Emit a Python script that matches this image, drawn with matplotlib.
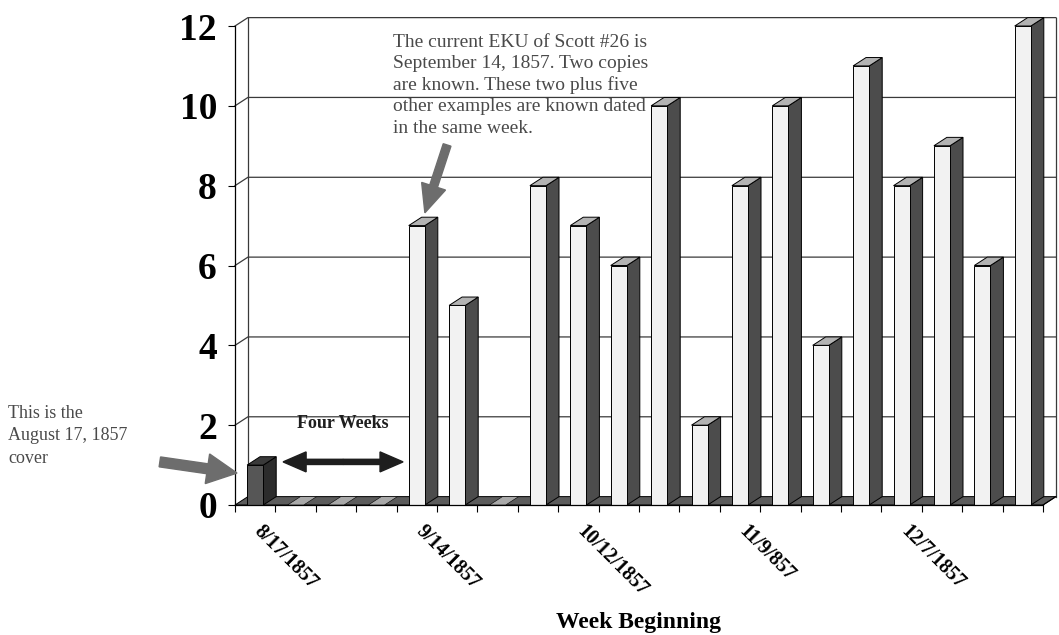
import numpy as np
import matplotlib
matplotlib.use("Agg")
import matplotlib.pyplot as plt
from matplotlib.patches import Polygon, FancyArrow
from matplotlib.lines import Line2D
import matplotlib.transforms as mtransforms

# Covers recorded per week, starting with the week of 8/17/1857
counts = [1, 0, 0, 0, 7, 5, 0, 8, 7, 6, 10, 2, 8, 10, 4, 11, 8, 9, 6, 12]
label_weeks = [0, 4, 8, 12, 16]
week_labels = ["8/17/1857", "9/14/1857", "10/12/1857", "11/9/857", "12/7/1857"]
y_ticks = [0, 2, 4, 6, 8, 10, 12]

n = len(counts)
ymax = 12
DX, DY = 0.32, 0.21          # oblique depth offset of the 3-D box
BAR_W = 0.40

SERIF = "Liberation Serif"
ANN_GREY = "#4a4a4a"

fig = plt.figure(figsize=(10.59, 6.35), dpi=100)
ax = fig.add_axes([235 / 1059, 130 / 635, 808 / 1059, 479 / 635])
ax.set_xlim(0, n)
ax.set_ylim(0, ymax)
ax.patch.set_visible(False)

def poly(pts, fc, z, ec="black", lw=0.7):
    p = Polygon(pts, closed=True, facecolor=fc, edgecolor=ec, linewidth=lw,
                zorder=z, clip_on=False, joinstyle="miter")
    ax.add_patch(p)

def line(xs, ys, z=0.6, color="#3a3a3a", lw=0.9):
    ax.add_line(Line2D(xs, ys, color=color, linewidth=lw, zorder=z,
                       clip_on=False))

# back wall and gridlines
poly([(DX, DY), (n + DX, DY), (n + DX, ymax + DY), (DX, ymax + DY)],
     "white", 0.4, ec="none")
for v in y_ticks[1:]:
    line([0, DX, n + DX], [v, v + DY, v + DY])
line([DX, DX], [DY, ymax + DY])
line([n + DX, n + DX], [DY, ymax + DY])

# floor slab
poly([(0, 0), (n, 0), (n + DX, DY), (DX, DY)], "#5c5c5c", 1.0)

# bars
for i, v in enumerate(counts):
    c = i + 0.5
    x0, x1 = c - BAR_W / 2, c + BAR_W / 2
    if i == 0:
        front, side, top = "#565656", "#2c2c2c", "#3a3a3a"
    else:
        front, side, top = "#f2f2f2", "#4c4c4c", "#b3b3b3"
    z = 2 + i * 0.01
    if v > 0:
        poly([(x1, 0), (x1 + DX, DY), (x1 + DX, v + DY), (x1, v)], side, z)
    poly([(x0, v), (x1, v), (x1 + DX, v + DY), (x0 + DX, v + DY)],
         top if v > 0 else "#a9a9a9", z + 0.001, lw=0.7 if v > 0 else 0.4)
    if v > 0:
        poly([(x0, 0), (x1, 0), (x1, v), (x0, v)], front, z + 0.002)

# right floor edge
line([n, n + DX], [0, DY], z=3, color="black", lw=0.8)

# axes frame
for s in ("top", "right"):
    ax.spines[s].set_visible(False)
ax.spines["left"].set_linewidth(0.9)
ax.spines["bottom"].set_linewidth(0.9)
ax.spines["left"].set_zorder(3)
ax.spines["bottom"].set_zorder(3)

ax.set_yticks(y_ticks)
ax.set_yticklabels([str(v) for v in y_ticks])
ax.tick_params(axis="y", length=5, width=0.8, pad=8, labelsize=27)
for t in ax.get_yticklabels():
    t.set_fontfamily(SERIF)
    t.set_fontweight("bold")

ax.set_xticks(np.arange(n + 1))
ax.set_xticklabels([])
ax.tick_params(axis="x", which="major", length=5, width=0.8)
ax.set_xticks([i + 0.5 for i in label_weeks], labels=week_labels, minor=True)
ax.tick_params(axis="x", which="minor", length=0, pad=12)
shift = mtransforms.ScaledTranslation(9 / 100, 0, fig.dpi_scale_trans)
for t in ax.get_xticklabels(minor=True):
    t.set_fontfamily(SERIF)
    t.set_fontweight("bold")
    t.set_fontsize(14.5)
    t.set_rotation(-45)
    t.set_ha("left")
    t.set_va("top")
    t.set_rotation_mode("anchor")
    t.set_transform(t.get_transform() + shift)

ax.set_xlabel("Week Beginning", fontfamily=SERIF, fontweight="bold",
              fontsize=17)
ax.xaxis.label.set_va("baseline")
ax.xaxis.set_label_coords(0.5, (505 - 628) / 479)

# annotations
ax.text(3.9, (505 - 34) / 39.9,
        "The current EKU of Scott #26 is\nSeptember 14, 1857. Two copies\n"
        "are known. These two plus five\nother examples are known dated\n"
        "in the same week.",
        ha="left", va="top", fontfamily=SERIF, fontsize=14, color=ANN_GREY,
        linespacing=1.32, zorder=5)

fig.text(8 / 1059, 1 - 405 / 635, "This is the\nAugust 17, 1857\ncover",
         ha="left", va="top", fontfamily=SERIF, fontsize=13, color=ANN_GREY,
         linespacing=1.42)

ax.text(2.67, 2.05, "Four Weeks", ha="center", va="center",
        fontfamily=SERIF, fontweight="bold", fontsize=13, color="#1e1e1e",
        zorder=5)

arrow_grey = "#6d6d6d"
ax.add_patch(FancyArrow(-1.86, 1.08, 1.91, -0.28, width=0.25,
                        head_width=0.75, head_length=0.74,
                        length_includes_head=True, color=arrow_grey,
                        clip_on=False, zorder=5))
ax.add_patch(FancyArrow(5.25, 9.02, -0.55, -1.70, width=0.2,
                        head_width=0.62, head_length=0.7,
                        length_includes_head=True, color=arrow_grey,
                        clip_on=False, zorder=5))
mid = (1.19 + 4.16) / 2
for end in (1.19, 4.16):
    ax.add_patch(FancyArrow(mid, 1.08, end - mid, 0, width=0.13,
                            head_width=0.5, head_length=0.57,
                            length_includes_head=True, color="#1e1e1e",
                            clip_on=False, zorder=5))

fig.savefig("out.png", dpi=100, facecolor="white")
